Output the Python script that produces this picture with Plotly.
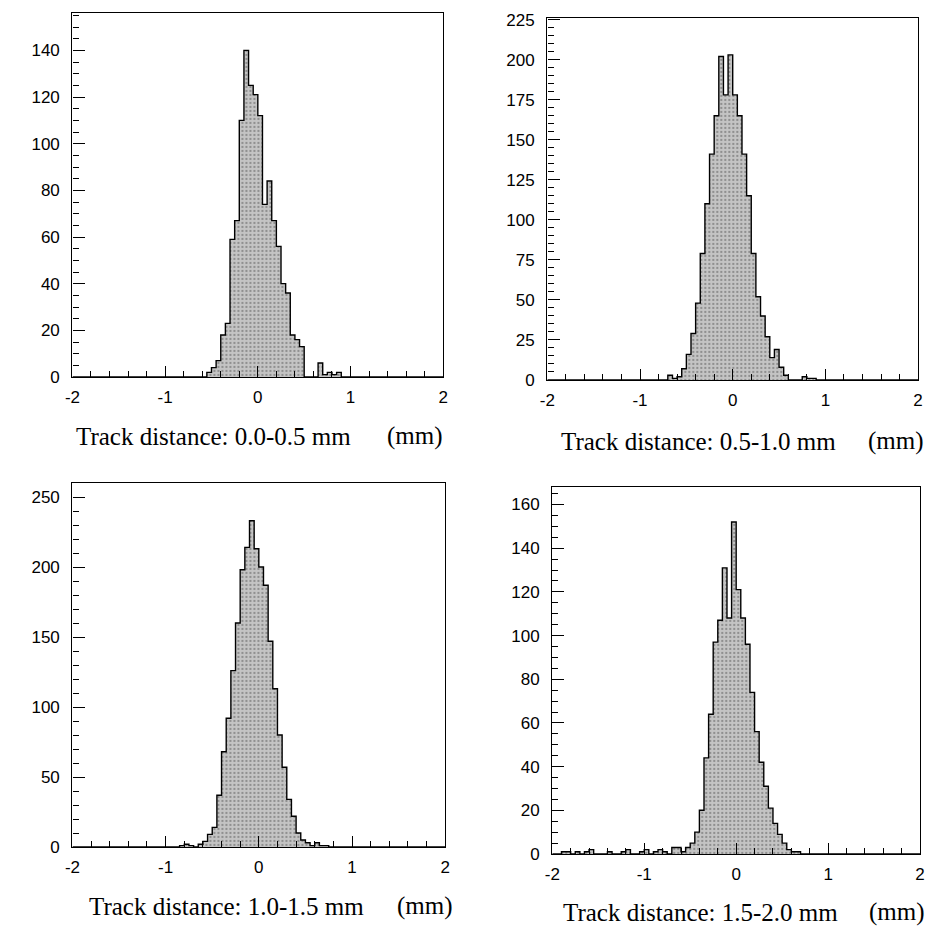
import plotly.graph_objects as go

# Bin centres (0.05 mm wide bins from -2 to 2 mm)
bin_centers = [round(-1.975 + 0.05 * i, 3) for i in range(80)]

def to_counts(d):
    return [d.get(round(c, 3), 0) for c in bin_centers]

# Panel 1: Track distance 0.0-0.5 mm
p1 = {-0.525: 2, -0.475: 4, -0.425: 7, -0.375: 18, -0.325: 23, -0.275: 59,
      -0.225: 67, -0.175: 110, -0.125: 140, -0.075: 125, -0.025: 121, 0.025: 112,
      0.075: 74, 0.125: 84, 0.175: 67, 0.225: 56, 0.275: 40, 0.325: 36,
      0.375: 18, 0.425: 16, 0.475: 13, 0.675: 6, 0.725: 1, 0.775: 2,
      0.825: 1, 0.875: 2}
# Panel 2: Track distance 0.5-1.0 mm
p2 = {-0.675: 3, -0.625: 1, -0.575: 2, -0.525: 7, -0.475: 16, -0.425: 29,
      -0.375: 48, -0.325: 79, -0.275: 110, -0.225: 141, -0.175: 165, -0.125: 202,
      -0.075: 178, -0.025: 203, 0.025: 178, 0.075: 165, 0.125: 141, 0.175: 115,
      0.225: 79, 0.275: 52, 0.325: 40, 0.375: 27, 0.425: 14, 0.475: 19,
      0.525: 8, 0.575: 3, 0.775: 2, 0.825: 1, 0.875: 1}
# Panel 3: Track distance 1.0-1.5 mm
p3 = {-0.825: 1, -0.775: 2, -0.725: 1, -0.625: 2, -0.575: 4, -0.525: 9,
      -0.475: 14, -0.425: 37, -0.375: 68, -0.325: 92, -0.275: 126, -0.225: 160,
      -0.175: 198, -0.125: 214, -0.075: 233, -0.025: 213, 0.025: 200, 0.075: 187,
      0.125: 147, 0.175: 113, 0.225: 80, 0.275: 57, 0.325: 34, 0.375: 22,
      0.425: 10, 0.475: 5, 0.525: 3, 0.575: 1, 0.625: 3, 0.675: 1, 0.725: 1}
# Panel 4: Track distance 1.5-2.0 mm
p4 = {-1.875: 1, -1.825: 1, -1.725: 1, -1.625: 1, -1.575: 2, -1.375: 1,
      -1.225: 1, -1.175: 2, -1.025: 1, -0.975: 2, -0.875: 1, -0.825: 2,
      -0.775: 1, -0.675: 3, -0.625: 3, -0.575: 1, -0.525: 3, -0.475: 5,
      -0.425: 10, -0.375: 20, -0.325: 44, -0.275: 64, -0.225: 97, -0.175: 107,
      -0.125: 131, -0.075: 108, -0.025: 152, 0.025: 121, 0.075: 108, 0.125: 96,
      0.175: 74, 0.225: 56, 0.275: 42, 0.325: 31, 0.375: 21, 0.425: 14,
      0.475: 9, 0.525: 5, 0.575: 2, 0.625: 1, 0.675: 1}

counts = [to_counts(p1), to_counts(p2), to_counts(p3), to_counts(p4)]
titles = ["Track distance: 0.0-0.5 mm", "Track distance: 0.5-1.0 mm",
          "Track distance: 1.0-1.5 mm", "Track distance: 1.5-2.0 mm"]
x_ticks = [-2, -1, 0, 1, 2]
x_tick_text = ["-2", "-1", "0", "1", "2"]
y_max = [156, 226, 260, 168]
y_dtick = [20, 25, 50, 20]
y_minor = [5, 5, 10, 5]

# The page body adds an 8 px margin and only ~922 px of width stay visible,
# so reference positions (0..938) are mapped into the visible area.
OFF = 8
W = 922
H = 922
# plot boxes in reference pixels: left, right, top, bottom
boxes = [(73, 447, 13, 377), (552, 926, 18, 380), (73, 449, 483, 847), (557, 928, 487, 854)]
# title: left x, centre y, "(mm)" left x
title_pos = [(75, 436, 388), (564, 441, 873), (88, 906, 398), (566, 912, 874)]

def pxx(v):
    return (v - OFF) / 930

def pxy(v):
    return 1 - (v - OFF) / H

fig = go.Figure()
for i in range(4):
    xs = [c - 0.025 for c in bin_centers] + [bin_centers[-1] + 0.025]
    ys = counts[i] + [counts[i][-1]]
    sfx = "" if i == 0 else str(i + 1)
    fig.add_trace(go.Scatter(
        x=xs, y=ys, mode="lines", line=dict(shape="hv", color="black", width=1.4),
        fill="tozeroy", fillcolor="#b9b9b9",
        fillpattern=dict(shape=".", fgcolor="#555555", bgcolor="#c4c4c4", size=4, solidity=0.25),
        xaxis="x" + sfx, yaxis="y" + sfx, hoverinfo="skip", showlegend=False))
    l, r, t, b = boxes[i]
    fig.layout["xaxis" + sfx] = dict(
        domain=[pxx(l), min(pxx(r), 1.0)], anchor="y" + sfx, range=[-2, 2], automargin=False,
        tickvals=x_ticks, ticktext=x_tick_text, ticks="inside", ticklen=11, tickwidth=1.2,
        tickcolor="black",
        minor=dict(dtick=0.2, tick0=-2, ticks="inside", ticklen=6, tickwidth=1.1, tickcolor="black"),
        showline=True, linecolor="black", linewidth=1.4, mirror=True,
        showgrid=False, zeroline=False, ticklabelstandoff=4,
        tickfont=dict(family="Liberation Sans, Arial", size=17, color="black"))
    fig.layout["yaxis" + sfx] = dict(
        domain=[pxy(b), pxy(t)], anchor="x" + sfx, range=[0, y_max[i]], automargin=False,
        dtick=y_dtick[i], tick0=0, ticks="inside", ticklen=12, tickwidth=1.2, tickcolor="black",
        minor=dict(dtick=y_minor[i], tick0=0, ticks="inside", ticklen=6, tickwidth=1.1, tickcolor="black"),
        showline=True, linecolor="black", linewidth=1.4, mirror=True,
        showgrid=False, zeroline=False, ticklabelstandoff=8,
        tickfont=dict(family="Liberation Sans, Arial", size=17, color="black"))
    tx, ty, mx = title_pos[i]
    fig.add_annotation(x=pxx(tx), y=pxy(ty), xref="paper", yref="paper",
                       text=titles[i], showarrow=False, xanchor="left", yanchor="middle",
                       font=dict(family="Liberation Serif, Times New Roman", size=25, color="black"))
    fig.add_annotation(x=pxx(mx), y=pxy(ty), xref="paper", yref="paper",
                       text="(mm)", showarrow=False, xanchor="left", yanchor="middle",
                       font=dict(family="Liberation Serif, Times New Roman", size=25, color="black"))

fig.update_layout(width=W, height=H, margin=dict(l=0, r=0, t=0, b=0),
                  paper_bgcolor="white", plot_bgcolor="white")
fig.write_html("out.html")
